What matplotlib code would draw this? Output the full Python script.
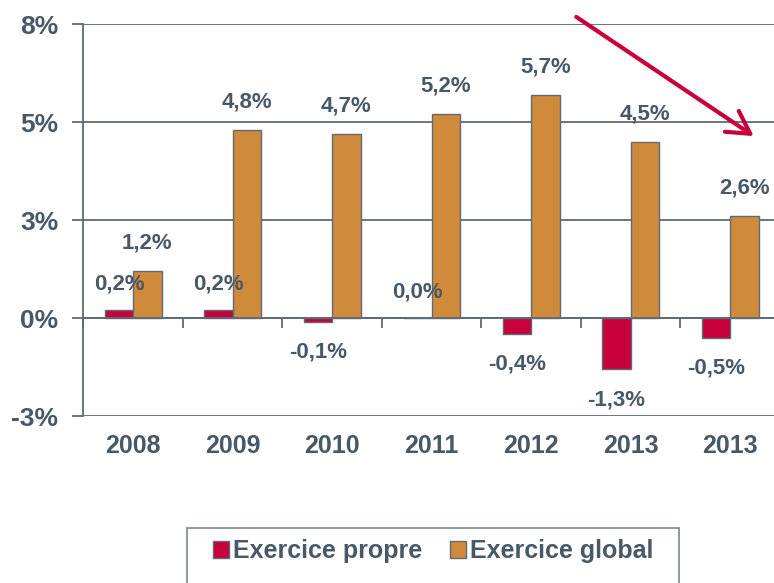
import numpy as np
import matplotlib
matplotlib.use("Agg")
import matplotlib.pyplot as plt
from matplotlib.patches import Rectangle, Patch

# ── Data ──────────────────────────────────────────────────────────────────────
years   = ["2008", "2009", "2010", "2011", "2012", "2013", "2013"]
propre  = [0.2, 0.2, -0.1, 0.0, -0.4, -1.3, -0.5]
globale = [1.2, 4.8, 4.7, 5.2, 5.7, 4.5, 2.6]
y_ticks  = [-2.5, 0.0, 2.5, 5.0, 7.5]
y_labels = ["-3%", "0%", "3%", "5%", "8%"]

C_PROPRE = "#C8003C"
C_GLOBAL = "#D08A3C"
C_TEXT   = "#485866"
C_LINE   = "#5E6A74"

plt.rcParams["font.family"] = ["Liberation Sans", "DejaVu Sans"]
plt.rcParams["font.weight"] = "bold"

W, H = 774, 583
fig = plt.figure(figsize=(W / 100, H / 100), dpi=100)
ax = fig.add_axes([83.4 / W, (H - 416) / H, (780 - 83.4) / W, 392 / H])

x = np.arange(len(years))
width = 0.285
off = 0.1425
ax.bar(x - off, propre, width, color=C_PROPRE, edgecolor=C_LINE, linewidth=1, zorder=3)
ax.bar(x + off, globale, width, color=C_GLOBAL, edgecolor=C_LINE, linewidth=1, zorder=3)

def fmt(v):
    return f"{v:.1f}%".replace(".", ",")

for xi, v in zip(x - off, propre):
    dy = 19 if v >= 0 else -22
    ax.annotate(fmt(v), (xi, v), xytext=(0, dy), textcoords="offset points",
                ha="center", va="center", fontsize=16, color=C_TEXT, fontweight="bold")
for xi, v in zip(x + off, globale):
    ax.annotate(fmt(v), (xi, v), xytext=(0, 20), textcoords="offset points",
                ha="center", va="center", fontsize=16, color=C_TEXT, fontweight="bold")

ax.set_xlim(-0.5, len(years) - 0.5)
ax.set_ylim(-2.5, 7.5)
ax.set_yticks(y_ticks)
ax.set_yticklabels(y_labels, fontsize=19, color=C_TEXT, fontweight="bold")
ax.tick_params(axis="y", length=8, width=1.3, color=C_LINE, pad=10)
ax.yaxis.grid(True, color=C_LINE, linewidth=1.3)
ax.set_axisbelow(True)

# x axis on the zero line, ticks between categories
for s in ["top", "right"]:
    ax.spines[s].set_visible(False)
ax.spines["left"].set_color(C_LINE)
ax.spines["left"].set_linewidth(1.3)
ax.spines["bottom"].set_position(("data", 0))
ax.spines["bottom"].set_color(C_LINE)
ax.spines["bottom"].set_linewidth(1.3)
ax.spines["bottom"].set_zorder(4)
ax.set_xticks(np.arange(len(years) + 1) - 0.5)
ax.set_xticklabels([])
ax.tick_params(axis="x", length=7, width=1.3, color=C_LINE)

trans = ax.get_xaxis_transform()
for xi, lab in zip(x, years):
    ax.text(xi, -0.077, lab, transform=trans, ha="center", va="center",
            fontsize=18, color=C_TEXT, fontweight="bold")

# trend arrow
ax.annotate("", xy=(6.26, 4.6), xytext=(4.43, 7.72),
            arrowprops=dict(arrowstyle="->,head_length=0.8,head_width=0.45",
                            color=C_PROPRE, lw=3, mutation_scale=20),
            annotation_clip=False)

# legend
fig.patches.append(Rectangle((187 / W, -0.05), (679 - 187) / W, (H - 528) / H + 0.05,
                             transform=fig.transFigure, fill=False,
                             edgecolor="#7A868F", linewidth=1.2))
handles = [Patch(facecolor=C_PROPRE, edgecolor=C_LINE, label="Exercice propre"),
           Patch(facecolor=C_GLOBAL, edgecolor=C_LINE, label="Exercice global")]
leg = fig.legend(handles=handles, loc="center", bbox_to_anchor=(433 / W, (H - 551) / H),
                 ncol=2, frameon=False, fontsize=18, handlelength=0.65,
                 handleheight=0.65, handletextpad=0.15, columnspacing=1.1)
for t in leg.get_texts():
    t.set_color(C_TEXT)
    t.set_fontweight("bold")

fig.savefig("out.png", dpi=100)
